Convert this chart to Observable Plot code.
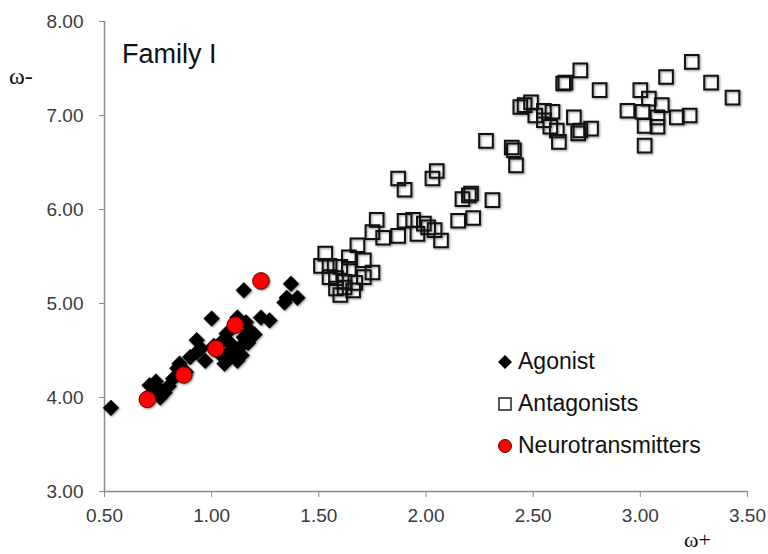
<!DOCTYPE html>
<html><head><meta charset="utf-8">
<script src="https://cdn.jsdelivr.net/npm/d3@7"></script>
<script src="https://cdn.jsdelivr.net/npm/@observablehq/plot@0.6"></script>
<style>
body{margin:0;background:#fff;}
#wrap{position:relative;width:768px;height:554px;font-family:"Liberation Sans",Arial,sans-serif;background:#fff;overflow:hidden;}
#wrap svg text{fill:#3a3a3a;}
#wrap svg g[aria-label="dot"]{filter:drop-shadow(1.5px 1.5px 1.2px rgba(0,0,0,0.45));}
.lbl{position:absolute;white-space:nowrap;color:#111;line-height:1;}
.leg{position:absolute;left:496px;font-size:23px;color:#111;}
.leg div{position:absolute;left:0;white-space:nowrap;display:flex;align-items:center;}
.leg svg{margin-right:4px;overflow:visible;}
</style></head><body><div id="wrap"></div>
<script>
// Agonist (black diamonds)
const agonistX = [0.53,0.71,0.74,0.78,0.76,0.73,0.80,0.84,0.85,0.88,0.90,0.93,0.93,0.97,0.95,1.00,1.04,1.06,1.07,1.05,1.09,1.12,1.13,1.15,1.18,1.12,1.23,1.27,1.15,1.37,1.35,1.40,1.34,1.10,1.07,1.16,1.20,1.01,0.82,1.14,0.75,1.09,1.17];
const agonistY = [3.89,4.13,4.17,4.05,4.00,4.07,4.12,4.31,4.36,4.27,4.43,4.61,4.48,4.39,4.52,4.84,4.46,4.36,4.43,4.60,4.57,4.39,4.53,4.64,4.71,4.85,4.85,4.82,5.14,5.21,5.06,5.06,5.01,4.48,4.68,4.80,4.67,4.55,4.20,4.45,4.10,4.50,4.58];
// Antagonists (hollow squares)
const antagonistX = [1.87,1.90,2.05,2.03,2.17,2.20,2.21,2.31,2.15,2.22,1.77,1.75,1.80,1.87,1.90,1.94,1.96,1.99,2.01,2.04,2.07,1.68,1.53,1.51,1.55,1.60,1.64,1.64,1.71,1.75,1.55,1.58,1.62,1.66,1.60,1.58,1.71,1.67,1.62,
  2.28,2.40,2.41,2.42,2.44,2.46,2.49,2.51,2.55,2.58,2.59,2.61,2.62,2.64,2.65,2.72,2.81,2.69,2.71,2.72,2.77,2.94,3.00,3.04,3.01,3.10,3.12,3.02,3.08,3.08,3.02,3.17,3.23,3.24,3.33,3.43,2.55];
const antagonistY = [6.33,6.21,6.41,6.33,6.11,6.15,6.17,6.10,5.88,5.91,5.89,5.76,5.70,5.72,5.88,5.89,5.74,5.85,5.81,5.78,5.67,5.62,5.53,5.40,5.40,5.39,5.49,5.37,5.46,5.33,5.28,5.27,5.23,5.14,5.09,5.16,5.28,5.22,5.17,
  6.73,6.66,6.63,6.47,7.09,7.11,7.14,7.00,6.95,6.88,7.04,6.84,6.72,7.34,7.35,7.48,7.27,6.98,6.81,6.84,6.86,7.05,7.27,7.18,7.04,7.11,7.41,6.89,6.98,6.88,6.68,6.98,7.00,7.57,7.35,7.19,7.05];
// Neurotransmitters (red circles)
const neuroX = [0.70,0.87,1.02,1.11,1.23];
const neuroY = [3.98,4.24,4.52,4.77,5.24];
// Ticks
const xTicks = [0.5,1,1.5,2,2.5,3,3.5];
const yTicks = [3,4,5,6,7,8];

const toRows = (xs, ys) => xs.map((x, i) => ({x, y: ys[i]}));
const agonists = toRows(agonistX, agonistY);
const antagonists = toRows(antagonistX, antagonistY);
const neuro = toRows(neuroX, neuroY);

const chart = Plot.plot({
  width: 768, height: 554,
  marginLeft: 104, marginRight: 21, marginTop: 21, marginBottom: 63,
  style: {fontFamily: '"Liberation Sans", Arial, sans-serif', fontSize: "19px", color: "#8c8c8c", background: "#fff", overflow: "visible"},
  x: {domain: [0.5, 3.5], ticks: xTicks, tickFormat: d3.format(".2f"), label: null, tickSize: 6, tickPadding: 11},
  y: {domain: [3, 8], ticks: yTicks, tickFormat: d3.format(".2f"), label: null, tickSize: 5, tickPadding: 16},
  marks: [
    Plot.ruleX([0.5], {stroke: "#8c8c8c", strokeWidth: 1.5}),
    Plot.ruleY([3], {stroke: "#8c8c8c", strokeWidth: 1.5}),
    Plot.dot(antagonists, {x: "x", y: "y", symbol: "square", r: 7.7, stroke: "#111", strokeWidth: 2, fill: "none"}),
    Plot.dot(agonists, {x: "x", y: "y", symbol: "diamond2", r: 7.1, fill: "#000", stroke: "#000", strokeWidth: 0.5}),
    Plot.dot(neuro, {x: "x", y: "y", symbol: "circle", r: 8.3, fill: "#ff0000", stroke: "#5a0000", strokeWidth: 1})
  ]
});
const wrap = document.getElementById("wrap");
wrap.appendChild(chart);
chart.style.position = "absolute"; chart.style.left = "0"; chart.style.top = "0";

function addLabel(text, left, top, size, family) {
  const d = document.createElement("div");
  d.className = "lbl"; d.textContent = text;
  d.style.left = left + "px"; d.style.top = top + "px"; d.style.fontSize = size + "px";
  if (family) d.style.fontFamily = family;
  wrap.appendChild(d);
}
addLabel("Family I", 122, 41, 27);
addLabel("ω-", 9, 64, 24, '"Liberation Serif", serif');
addLabel("ω+", 684, 529, 22, '"Liberation Serif", serif');

const legendItems = ["Agonist", "Antagonists", "Neurotransmitters"];
const icons = [
  '<svg width="18" height="18" viewBox="-9 -9 18 18"><path d="M0,-7L7,0L0,7L-7,0Z" fill="#000"/></svg>',
  '<svg width="18" height="18" viewBox="-9 -9 18 18"><rect x="-6" y="-6" width="12" height="12" fill="#fff" stroke="#222" stroke-width="1.5"/></svg>',
  '<svg width="18" height="18" viewBox="-9 -9 18 18"><circle r="6.5" fill="#ff0000" stroke="#5a0000" stroke-width="1"/></svg>'
];
const leg = document.createElement("div");
leg.className = "leg"; leg.style.top = "348px";
legendItems.forEach((t, i) => {
  const row = document.createElement("div");
  row.style.top = (i * 42) + "px";
  row.innerHTML = icons[i] + "<span>" + t + "</span>";
  leg.appendChild(row);
});
wrap.appendChild(leg);
</script></body></html>
